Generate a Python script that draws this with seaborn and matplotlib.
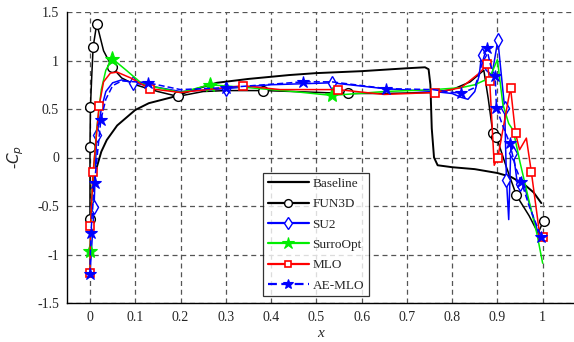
import numpy as np
import pandas as pd
import matplotlib
matplotlib.use("Agg")
import matplotlib.pyplot as plt
from matplotlib.lines import Line2D
import seaborn as sns

# ---------------- data ----------------
baseline_x = [0.006, 0.010, 0.015, 0.025, 0.037, 0.06, 0.10, 0.13, 0.18, 0.23, 0.28, 0.35, 0.44, 0.5, 0.6,
              0.7, 0.74, 0.748, 0.752, 0.755, 0.760, 0.768, 0.8, 0.85, 0.9, 0.93, 0.96, 0.98, 0.997]
baseline_y = [-0.35, -0.2, -0.1, 0.06, 0.18, 0.33, 0.49, 0.56, 0.62, 0.70, 0.77, 0.81, 0.85, 0.87, 0.89,
              0.92, 0.93, 0.91, 0.75, 0.3, 0.0, -0.08, -0.1, -0.12, -0.16, -0.2, -0.28, -0.36, -0.47]

fun3d_x = [0, 0, 0.001, 0.004, 0.007, 0.015, 0.03, 0.049, 0.07, 0.1, 0.15, 0.194, 0.25, 0.3, 0.382, 0.45,
           0.57, 0.65, 0.75, 0.8, 0.84, 0.87, 0.88, 0.89, 0.898, 0.92, 0.942, 0.97, 0.99, 1.002]
fun3d_y = [-0.63, 0.11, 0.52, 0.85, 1.14, 1.38, 1.1, 0.93, 0.82, 0.75, 0.68, 0.63, 0.68, 0.69, 0.69, 0.68,
           0.66, 0.66, 0.67, 0.7, 0.78, 0.9, 0.6, 0.25, 0.21, -0.1, -0.39, -0.6, -0.78, -0.65]

su2_x = [0, 0.004, 0.009, 0.012, 0.015, 0.025, 0.035, 0.05, 0.07, 0.095, 0.13, 0.2, 0.3, 0.4, 0.534, 0.65,
         0.76, 0.8, 0.82, 0.835, 0.85, 0.86, 0.865, 0.875, 0.888, 0.901, 0.916, 0.92, 0.925, 0.93, 0.935,
         0.945, 0.95, 0.96, 0.975, 0.993]
su2_y = [-1.2, -0.9, -0.51, -0.1, 0.23, 0.5, 0.68, 0.77, 0.8, 0.77, 0.74, 0.68, 0.71, 0.75, 0.77, 0.71,
         0.68, 0.66, 0.62, 0.6, 0.68, 0.85, 1.06, 0.9, 0.85, 1.21, 0.51, -0.23, -0.64, 0.15, 0.05,
         -0.3, -0.27, -0.3, -0.55, -0.82]

surro_x = [0, 0, 0.005, 0.015, 0.025, 0.035, 0.049, 0.08, 0.11, 0.13, 0.2, 0.265, 0.35, 0.45, 0.534, 0.65,
           0.76, 0.82, 0.85, 0.883, 0.9, 0.912, 0.925, 0.935, 0.95, 0.971, 0.987, 1.0]
surro_y = [-1.2, -0.96, -0.3, 0.3, 0.7, 0.9, 1.02, 0.9, 0.78, 0.74, 0.67, 0.75, 0.72, 0.68, 0.64, 0.68,
           0.70, 0.72, 0.75, 0.82, 1.01, 0.55, 0.35, 0.28, -0.05, -0.47, -0.78, -1.09]

mlo_x = [0, 0.001, 0.007, 0.02, 0.03, 0.045, 0.06, 0.09, 0.132, 0.2, 0.338, 0.42, 0.548, 0.65, 0.762,
         0.82, 0.86, 0.878, 0.883, 0.893, 0.901, 0.929, 0.94, 0.949, 0.964, 0.975, 0.993, 1.0]
mlo_y = [-1.19, -0.71, -0.15, 0.53, 0.78, 0.87, 0.88, 0.82, 0.71, 0.67, 0.74, 0.70, 0.70, 0.65, 0.67,
         0.72, 0.87, 0.96, 0.79, -0.08, 0.0, 0.72, 0.25, 0.08, 0.2, -0.15, -0.78, -0.82]

aemlo_x = [0, 0.002, 0.01, 0.024, 0.035, 0.05, 0.07, 0.1, 0.128, 0.2, 0.3, 0.47, 0.534, 0.655, 0.757,
           0.82, 0.85, 0.865, 0.876, 0.885, 0.895, 0.898, 0.91, 0.927, 0.94, 0.953, 0.97, 0.997]
aemlo_y = [-1.2, -0.78, -0.26, 0.39, 0.6, 0.74, 0.79, 0.78, 0.77, 0.7, 0.72, 0.78, 0.78, 0.71, 0.70,
           0.66, 0.72, 0.95, 1.13, 0.95, 0.84, 0.51, 0.35, 0.15, -0.1, -0.25, -0.5, -0.82]

x_ticks = [0, 0.1, 0.2, 0.3, 0.4, 0.5, 0.6, 0.7, 0.8, 0.9, 1]
x_tick_labels = ["0", "0.1", "0.2", "0.3", "0.4", "0.5", "0.6", "0.7", "0.8", "0.9", "1"]
y_ticks = [-1.5, -1, -0.5, 0, 0.5, 1, 1.5]
y_tick_labels = ["-1.5", "-1", "-0.5", "0", "0.5", "1", "1.5"]

# marker indices (styling)
fun3d_mk = [0, 1, 2, 4, 5, 7, 11, 14, 16, 23, 24, 26, 29]
su2_mk = [2, 4, 9, 12, 14, 22, 25, 26, 27, 30, 32]
surro_mk = [1, 6, 11, 14]
mlo_mk = [0, 1, 2, 3, 8, 10, 12, 14, 17, 18, 20, 21, 22, 25, 27]
aemlo_mk = [0, 1, 2, 3, 8, 10, 11, 13, 15, 18, 20, 21, 23, 25, 27]

GREEN = '#00ee00'
BLUE = '#0000ff'
RED = '#ff0000'

# ---------------- style ----------------
sns.set_style("white")
plt.rcParams['font.family'] = ['Liberation Serif', 'DejaVu Serif']
plt.rcParams['axes.unicode_minus'] = False

fig = plt.figure(figsize=(5.74, 3.42), dpi=100)
ax = fig.add_axes([67.35 / 574, 1 - 303 / 342, 507 / 574, 291 / 342])

common = dict(sort=False, estimator=None, ax=ax, legend=False)

styles = {
    'Baseline': dict(color='black', lw=1.4),
    'FUN3D': dict(color='black', lw=1.1, marker='o', ms=7, mfc='white', mec='black', mew=1.0),
    'SU2': dict(color=BLUE, lw=1.1, marker='d', ms=7.5, mfc='white', mec=BLUE, mew=1.0),
    'SurroOpt': dict(color=GREEN, lw=1.1, marker='*', ms=11, mfc=GREEN, mec=GREEN, mew=0.8),
    'MLO': dict(color=RED, lw=1.1, marker='s', ms=6, mfc='white', mec=RED, mew=1.2),
    'AE-MLO': dict(color=BLUE, lw=1.1, marker='*', ms=9, mfc=BLUE, mec=BLUE, mew=0.8,
                   linestyle=(0, (4, 2))),
}

sns.lineplot(x=baseline_x, y=baseline_y, **styles['Baseline'], **common)
sns.lineplot(x=fun3d_x, y=fun3d_y, markevery=fun3d_mk, **styles['FUN3D'], **common)
sns.lineplot(x=su2_x, y=su2_y, markevery=su2_mk, **styles['SU2'], **common)
sns.lineplot(x=surro_x, y=surro_y, markevery=surro_mk, **styles['SurroOpt'], **common)
sns.lineplot(x=mlo_x, y=mlo_y, markevery=mlo_mk, **styles['MLO'], **common)
sns.lineplot(x=aemlo_x, y=aemlo_y, markevery=aemlo_mk, **styles['AE-MLO'], **common)

ax.set_xlim(-0.05, 1.07)
ax.set_ylim(-1.5, 1.5)
ax.set_xticks(x_ticks)
ax.set_xticklabels(x_tick_labels)
ax.set_yticks(y_ticks)
ax.set_yticklabels(y_tick_labels)
ax.tick_params(axis='both', labelsize=10, direction='in', length=3, color='black', pad=6)

ax.grid(True, linestyle=(0, (4, 3)), color='#555555', lw=0.9)
for s in ['top', 'right']:
    ax.spines[s].set_visible(False)
for s in ['left', 'bottom']:
    ax.spines[s].set_color('black')
    ax.spines[s].set_linewidth(1.0)

ax.set_xlabel('x', fontsize=11, fontstyle='italic', labelpad=2)
ax.set_ylabel(r'-$C_p$', fontsize=11, labelpad=8)

handles = []
for st in styles.values():
    st2 = dict(st)
    if 'ms' in st2:
        st2['ms'] = st2['ms'] * 0.8
    st2['lw'] = 1.6
    handles.append(Line2D([], [], **st2))
labels = list(styles.keys())
leg = ax.legend(handles, labels, loc='upper left', bbox_to_anchor=(0.386, 0.447), borderaxespad=0,
                fontsize=9.5, frameon=True, fancybox=False, edgecolor='black', numpoints=1,
                handlelength=3.1, labelspacing=0.62, handletextpad=0.3, borderpad=0.35)
leg.get_frame().set_linewidth(0.9)

fig.savefig('out.png', dpi=100)
